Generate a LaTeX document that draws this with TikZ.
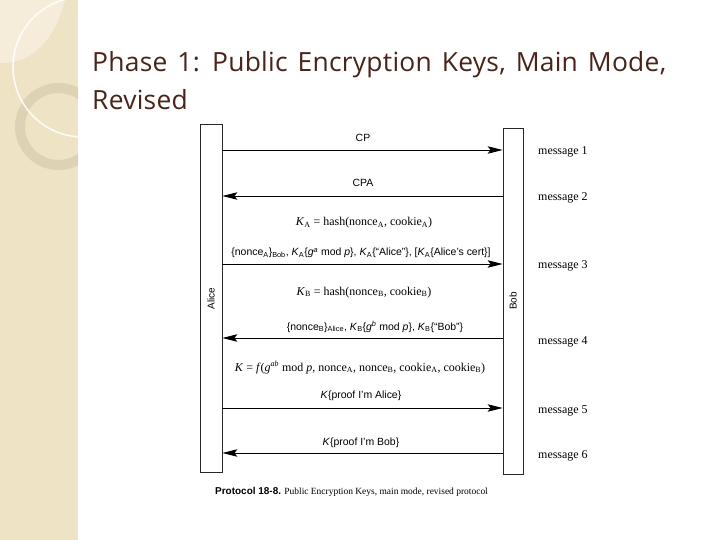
\documentclass[tikz,border=0pt]{standalone}
\usepackage{fontspec}
\setmainfont{Liberation Serif}
\newfontfamily\hel[Ligatures=TeX]{Liberation Sans}
\newfontfamily\ttlfont[Ligatures=NoCommon,LetterSpace=1.0,WordSpace=1.4]{Open Sans}
\usetikzlibrary{arrows.meta}
\definecolor{strip}{RGB}{239,227,198}
\definecolor{stripl}{RGB}{245,237,217}
\definecolor{ringc}{RGB}{222,210,180}
\definecolor{titlec}{RGB}{72,36,26}
\definecolor{barc}{RGB}{40,40,40}
\tikzset{
  bar/.style={draw=barc, line width=0.8bp, fill=white, inner sep=0pt, font=\hel\fontsize{10}{12}\selectfont},
  msg/.style={draw=black, line width=0.8bp, -{Stealth[length=15bp,width=7.5bp,inset=3bp]}},
  hlab/.style={anchor=base, inner sep=0pt, font=\hel\fontsize{10.5}{12}\selectfont},
  tlab/.style={anchor=base, inner sep=0pt, font=\fontsize{12}{14}\selectfont},
  mlab/.style={anchor=base west, inner sep=0pt, font=\fontsize{12}{14}\selectfont},
  ttl/.style={anchor=base west, inner sep=0pt, text=titlec, font=\ttlfont\fontsize{26.5}{30}\selectfont},
}
\begin{document}
\begin{tikzpicture}[x=1bp,y=-1bp]
\useasboundingbox (0,0) rectangle (720,540);
\fill[white] (0,0) rectangle (720,540);
% left decorative strip
\begin{scope}
  \clip (0,0) rectangle (78,540);
  \fill[strip] (0,0) rectangle (78,540);
  \fill[stripl] (0,0) -- (65,0) .. controls (55,38) and (35,63) .. (0,63) -- cycle;
  \draw[ringc, line width=10bp] (58.5,126.5) circle[radius=38.5];
  \draw[white, line width=1.6bp, opacity=0.85] (83,67) circle[radius=70];
\end{scope}
% title
\node[ttl] (t1) at (92,72) {Phase 1: Public Encryption Keys, Main Mode,};
\node[ttl] (t2) at (92,110) {Revised};
% lifelines
\node[bar, minimum width=22bp, minimum height=348bp] (alice) at (211,298.5) {\rotatebox{90}{Alice}};
\node[bar, minimum width=20bp, minimum height=346bp] (bob) at (513,301) {\rotatebox{90}{Bob}};
% message heights
\coordinate (m1) at (0,150);
\coordinate (m2) at (0,196);
\coordinate (m3) at (0,264);
\coordinate (m4) at (0,338);
\coordinate (m5) at (0,408);
\coordinate (m6) at (0,453);
\draw[msg] (alice.east |- m1) -- (bob.west |- m1);
\draw[msg] (bob.west |- m2) -- (alice.east |- m2);
\draw[msg] (alice.east |- m3) -- (bob.west |- m3);
\draw[msg] (bob.west |- m4) -- (alice.east |- m4);
\draw[msg] (alice.east |- m5) -- (bob.west |- m5);
\draw[msg] (bob.west |- m6) -- (alice.east |- m6);
% labels
\node[hlab] (l1) at (363,142) {CP};
\node[hlab] (l2) at (363,187) {CPA};
\node[tlab] (ka) at (364,226) {\textit{K}\textsubscript{A} = hash(nonce\textsubscript{A}, cookie\textsubscript{A})};
\node[hlab] (l3) at (361,256) {\{nonce\textsubscript{A}\}\textsubscript{Bob}, \textit{K}\textsubscript{A}\{\textit{g}\textsuperscript{\textit{a}} mod \textit{p}\}, \textit{K}\textsubscript{A}\{“Alice”\}, [\textit{K}\textsubscript{A}\{Alice’s cert\}]};
\node[tlab] (kb) at (364,295) {\textit{K}\textsubscript{B} = hash(nonce\textsubscript{B}, cookie\textsubscript{B})};
\node[hlab] (l4) at (375,330) {\{nonce\textsubscript{B}\}\textsubscript{Alice}, \textit{K}\textsubscript{B}\{\textit{g}\textsuperscript{\textit{b}} mod \textit{p}\}, \textit{K}\textsubscript{B}\{“Bob”\}};
\node[tlab] (kk) at (360,371) {\textit{K} = \textit{f}(\textit{g}\textsuperscript{\textit{ab}} mod \textit{p}, nonce\textsubscript{A}, nonce\textsubscript{B}, cookie\textsubscript{A}, cookie\textsubscript{B})};
\node[hlab] (l5) at (361,398) {\textit{K}\{proof I’m Alice\}};
\node[hlab] (l6) at (361,445) {\textit{K}\{proof I’m Bob\}};
% message names
\node[mlab] (n1) at (538,155) {message 1};
\node[mlab] (n2) at (538,201) {message 2};
\node[mlab] (n3) at (538,269) {message 3};
\node[mlab] (n4) at (538,344) {message 4};
\node[mlab] (n5) at (538,413) {message 5};
\node[mlab] (n6) at (538,458) {message 6};
% caption
\node[anchor=base west, inner sep=0pt] (cap) at (215,494) {{\hel\bfseries\fontsize{10}{12}\selectfont Protocol 18-8.} {\fontsize{9.5}{11}\selectfont Public Encryption Keys, main mode, revised protocol}};
\end{tikzpicture}
\end{document}
